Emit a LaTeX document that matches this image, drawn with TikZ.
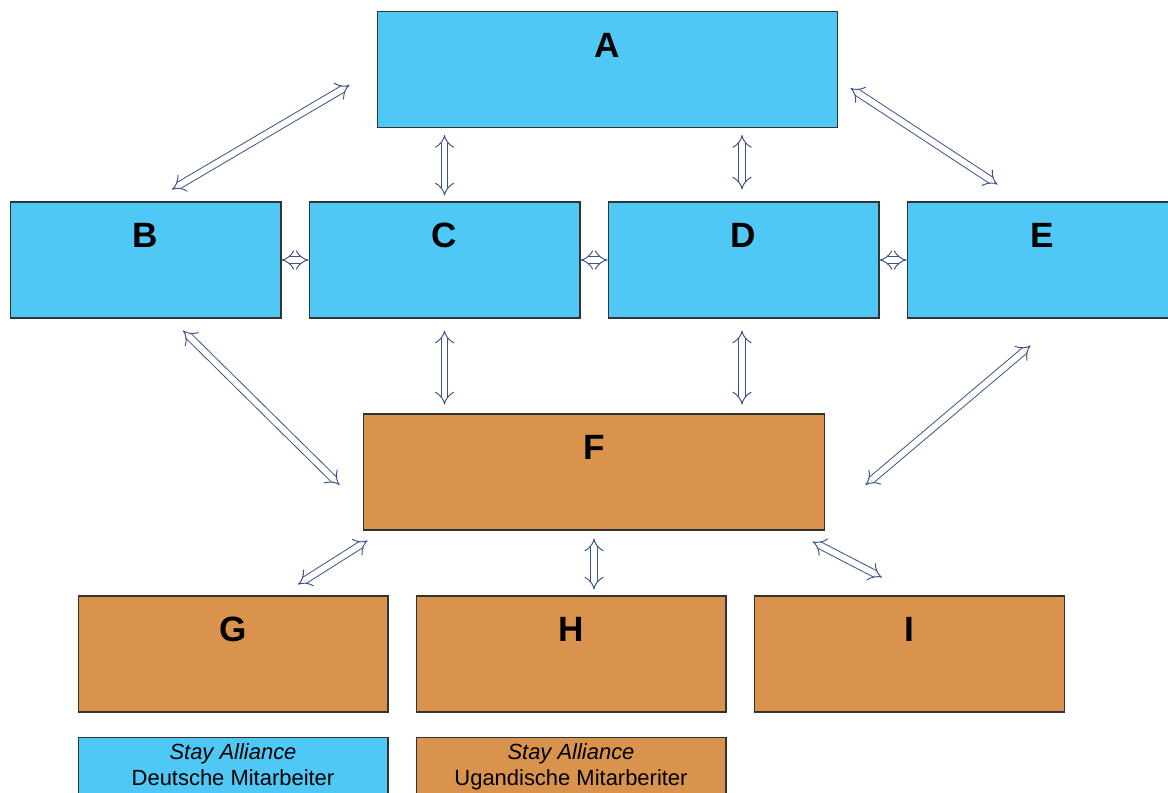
\documentclass[tikz,border=0pt]{standalone}
\usepackage{fontspec}
\setmainfont{Liberation Sans}
\definecolor{boxblue}{RGB}{79, 200, 245}
\definecolor{boxorange}{RGB}{218, 147, 76}
\definecolor{arrowblue}{RGB}{60, 82, 140}
\usetikzlibrary{arrows.meta}

\begin{document}
\begin{tikzpicture}[x=0.02cm, y=-0.02cm,
    org/.style={draw=black!80, line width=0.6pt, minimum height=2.32cm,
                minimum width=5.42cm, inner sep=0pt},
    blue/.style={org, fill=boxblue},
    orange/.style={org, fill=boxorange},
    boxlbl/.style={anchor=center, yshift=-0.68cm, font=\bfseries\fontsize{20}{22}\selectfont},
    legend/.style={draw=black!80, line width=0.6pt, minimum width=6.2cm,
                minimum height=1.46cm, inner xsep=0pt, inner ysep=0.13cm, align=center,
                font=\fontsize{12.5}{14.8}\selectfont},
    link/.style={{Implies}-{Implies}, draw=arrowblue, line width=0.55pt,
                double=white, double distance=3.4pt},
  ]
    \clip (0,0) rectangle (1168,793);
    \useasboundingbox (0,0) rectangle (1168,793);

    %% top level
    \node[blue, minimum width=9.22cm, label={[boxlbl]north:A}] (A) at (607.5, 69.5) {};

    %% second row, 298 apart
    \node[blue, label={[boxlbl]north:B}] (B) at (145.5, 260) {};
    \node[blue, label={[boxlbl]north:C}] (C) at (444.5, 260) {};
    \node[blue, label={[boxlbl]north:D}] (D) at (743.5, 260) {};
    \node[blue, label={[boxlbl]north:E}] (E) at (1042.5, 260) {};

    \node[orange, minimum width=9.24cm, label={[boxlbl]north:F}] (F) at (594, 472) {};

    %% bottom row
    \node[orange, minimum width=6.2cm, label={[boxlbl]north:G}] (G) at (233, 654) {};
    \node[orange, minimum width=6.2cm, label={[boxlbl]north:H}] (H) at (571, 654) {};
    \node[orange, minimum width=6.2cm, label={[boxlbl]north:I}] (I) at (909.5, 654) {};

    % legend
    \node[legend, fill=boxblue, anchor=north] (lgde) at (233, 737)
      {\textit{Stay Alliance}\\Deutsche Mitarbeiter\\[0pt]~};
    \node[legend, fill=boxorange, anchor=north] (lgug) at (571, 737)
      {\textit{Stay Alliance}\\Ugandische Mitarberiter\\[0pt]~};

    %% connections
    \draw[link] ([shift={(-27,15.5)}]A.west) -- ([shift={(26.5,-12)}]B.north);
    \draw[link] ([yshift=-0.14cm]C.north |- A.south) -- ([yshift=0.12cm]C.north);
    \draw[link] ([shift={(-1.5,7)}]D.north |- A.south) -- ([shift={(-1.5,-12)}]D.north);
    \draw[link] ([shift={(12,18.5)}]A.east) -- ([shift={(-45,-17)}]E.north);

    \draw[link] (B.east) -- (C.west);
    \draw[link] (C.east) -- (D.west);
    \draw[link] (D.east) -- (E.west);

    \draw[link] ([shift={(37.5,12)}]B.south) -- ([shift={(-23,13)}]F.west);
    \draw[link] ([yshift=-0.24cm]C.south) -- ([yshift=0.18cm]C.south |- F.north);
    \draw[link] ([shift={(-1.5,12)}]D.south) -- ([shift={(-1.5,-9)}]D.south |- F.north);
    \draw[link] ([shift={(-12,27)}]E.south) -- ([shift={(40,13)}]F.east);

    \draw[link] ([shift={(5,10)}]F.south west) -- ([shift={(65,-11)}]G.north);
    \draw[link] ([yshift=-0.16cm]F.south) -- ([yshift=0.12cm]F.south |- H.north);
    \draw[link] ([shift={(-13,11)}]F.south east) -- ([shift={(-27.5,-18)}]I.north);
\end{tikzpicture}
\end{document}
